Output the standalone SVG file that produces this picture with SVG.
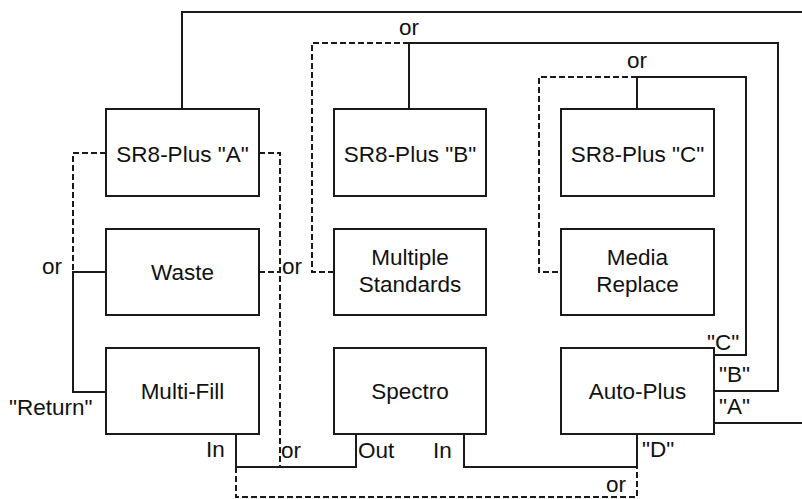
<svg xmlns="http://www.w3.org/2000/svg" width="802" height="499" viewBox="0 0 802 499">
<style>
.box{fill:#fff;stroke:#1a1a1a;stroke-width:2}
.ln{fill:none;stroke:#1a1a1a;stroke-width:2}
.ds{fill:none;stroke:#1a1a1a;stroke-width:2;stroke-dasharray:6,3}
text{font-family:"Liberation Sans",Arial,sans-serif;font-size:22.5px;fill:#111}
.c{text-anchor:middle}
</style>
<rect width="802" height="499" fill="#fff"/>
<g id="connectors">
<polyline class="ln" points="182,109 182,12 802,12"/>
<polyline class="ln" points="714,423 802,423"/>
<polyline class="ln" points="409,109 409,43 778,43 778,391 714,391"/>
<polyline class="ds" points="409,43 312,43 312,272 334,272"/>
<polyline class="ln" points="637,109 637,77 746,77 746,355 714,355"/>
<polyline class="ds" points="637,77 539,77 539,272 561,272"/>
<polyline class="ds" points="106,153 73,153 73,272"/>
<polyline class="ln" points="106,272 73,272 73,392 106,392"/>
<polyline class="ds" points="259,153 280,153 280,467"/>
<polyline class="ds" points="259,272 280,272"/>
<polyline class="ln" points="236,434 236,467 356,467 356,434"/>
<polyline class="ln" points="464,434 464,467 637,467 637,434"/>
<polyline class="ds" points="236,467 236,497 637,497 637,467"/>
</g>
<g id="sr8a"><rect class="box" x="106" y="109" width="153" height="87"/><text class="c" x="182.5" y="162">SR8-Plus "A"</text></g>
<g id="waste"><rect class="box" x="106" y="229" width="153" height="86"/><text class="c" x="182.5" y="280">Waste</text></g>
<g id="multifill"><rect class="box" x="106" y="348" width="153" height="86"/><text class="c" x="182.5" y="399">Multi-Fill</text></g>
<g id="sr8b"><rect class="box" x="334" y="109" width="152" height="87"/><text class="c" x="410" y="162">SR8-Plus "B"</text></g>
<g id="multistd"><rect class="box" x="334" y="229" width="152" height="86"/><text class="c" x="410" y="265">Multiple</text><text class="c" x="410" y="292">Standards</text></g>
<g id="spectro"><rect class="box" x="334" y="348" width="152" height="86"/><text class="c" x="410" y="399">Spectro</text></g>
<g id="sr8c"><rect class="box" x="561" y="109" width="153" height="87"/><text class="c" x="637.5" y="162">SR8-Plus "C"</text></g>
<g id="media"><rect class="box" x="561" y="229" width="153" height="86"/><text class="c" x="637.5" y="265">Media</text><text class="c" x="637.5" y="292">Replace</text></g>
<g id="autoplus"><rect class="box" x="561" y="348" width="153" height="86"/><text class="c" x="637.5" y="399">Auto-Plus</text></g>
<g id="labels">
<text x="399" y="35">or</text>
<text x="627" y="68">or</text>
<text x="42" y="274">or</text>
<text x="282" y="274">or</text>
<text x="9" y="415">"Return"</text>
<text x="206" y="457">In</text>
<text x="281" y="458">or</text>
<text x="358" y="458">Out</text>
<text x="433" y="458">In</text>
<text x="642" y="457">"D"</text>
<text x="606" y="492">or</text>
<text x="707" y="350">"C"</text>
<text x="719" y="382">"B"</text>
<text x="719" y="414">"A"</text>
</g>
</svg>
